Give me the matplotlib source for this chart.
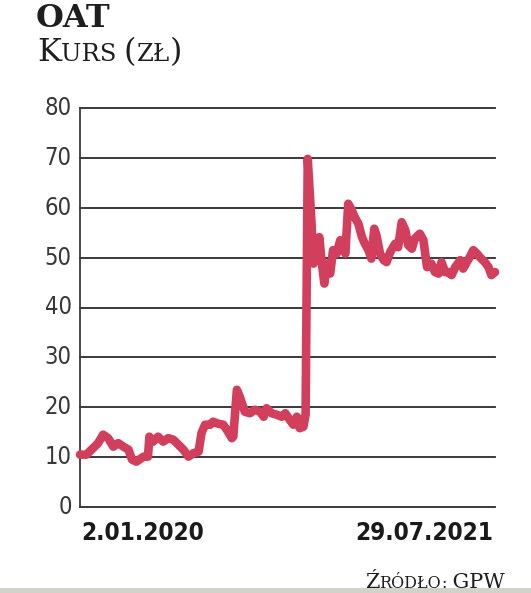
import matplotlib
matplotlib.use("Agg")
import matplotlib.pyplot as plt
from matplotlib import font_manager
import numpy as np
import pandas as pd

# ---- data ----
start_date = "2020-01-02"
end_date = "2021-07-29"
day_offsets = [0, 9, 18, 25, 32, 39, 46, 53, 60, 67, 72, 78, 88, 94, 96, 101, 108, 115,
               122, 129, 136, 143, 150, 157, 164, 168, 173, 180, 184, 191, 198, 203, 210,
               212, 217, 221, 228, 235, 242, 249, 254, 258, 265, 272, 279, 284, 290, 295,
               300, 304, 309, 312, 315, 320, 323, 327, 331, 334, 338, 341, 346, 350, 355,
               360, 364, 367, 371, 376, 380, 385, 390, 394, 399, 403, 407, 410, 415, 420,
               424, 429, 436, 440, 445, 450, 454, 459, 463, 470, 475, 480, 486, 491, 496,
               500, 505, 509, 514, 519, 526, 530, 535, 539, 544, 549, 553, 560, 565, 569, 574]
prices = [10.5, 10.5, 11.8, 12.8, 14.5, 13.8, 12.1, 12.8, 12.1, 11.5, 9.5, 9.1, 10.1, 10.1,
          14.1, 13.1, 14.1, 13.1, 13.8, 13.5, 12.5, 11.5, 10.1, 10.8, 11.1, 14.8, 16.5, 16.5,
          17.1, 16.7, 16.5, 15.5, 13.8, 14.1, 23.5, 22.1, 19.1, 18.8, 19.5, 19.1, 18.1, 19.8,
          18.8, 18.5, 18.1, 18.8, 17.5, 16.5, 18.1, 15.8, 16.1, 18.5, 69.8, 57.5, 48.8, 50.8,
          54.1, 49.5, 44.8, 48.8, 46.8, 51.5, 50.8, 53.5, 52.1, 50.8, 60.8, 59.5, 58.1, 56.8,
          54.1, 52.8, 51.5, 49.8, 55.8, 54.5, 50.8, 49.5, 49.1, 51.1, 52.8, 52.1, 57.1, 55.5,
          52.5, 51.8, 53.8, 54.8, 53.5, 48.1, 48.8, 47.1, 46.8, 49.1, 47.1, 47.1, 46.5, 48.1,
          49.5, 47.8, 49.1, 50.1, 51.5, 50.8, 50.1, 49.1, 48.1, 46.5, 47.1]
y_ticks = [0, 10, 20, 30, 40, 50, 60, 70, 80]
x_labels = ["2.01.2020", "29.07.2021"]
title = "OAT"

W, H = 531, 593
DPI = 100
fig = plt.figure(figsize=(W / DPI, H / DPI), dpi=DPI)
fig.patch.set_facecolor("white")

def fx(px):
    return px / W

def fy(py):
    return 1 - py / H

ax_l, ax_r, ax_t, ax_b = 80, 495, 108, 507
ax = fig.add_axes([fx(ax_l), fy(ax_b), (ax_r - ax_l) / W, (ax_b - ax_t) / H])

dates = pd.Timestamp(start_date) + pd.to_timedelta(day_offsets, unit="D")
ax.plot(dates, prices, color="#d23f5c", lw=6.2, solid_capstyle="round",
        solid_joinstyle="round", zorder=5, clip_on=False)

ax.set_xlim(pd.Timestamp(start_date), pd.Timestamp(end_date))
ax.set_ylim(0, 80)
ax.set_yticks(y_ticks)
ax.set_xticks([])
for y in y_ticks:
    ax.axhline(y, color="#2a2a2a", lw=1.3, zorder=1, clip_on=False)
for s in ["top", "right", "bottom"]:
    ax.spines[s].set_visible(False)
ax.spines["left"].set_color("#3a3a3a")
ax.spines["left"].set_linewidth(1.3)

# pick a narrow sans if available
cond_fp = None
cond_bold = None
for f in font_manager.fontManager.ttflist:
    if f.name == "DejaVu Sans" and "Condensed" in f.fname and "Bold" not in f.fname \
            and "Oblique" not in f.fname:
        cond_fp = f.fname
    if f.name == "DejaVu Sans" and "Condensed-Bold." in f.fname:
        cond_bold = f.fname

def tick_font(size):
    if cond_fp:
        return font_manager.FontProperties(fname=cond_fp, size=size)
    return font_manager.FontProperties(family="Roboto", weight="light", size=size)

def lab_font(size):
    if cond_bold:
        return font_manager.FontProperties(fname=cond_bold, size=size)
    return font_manager.FontProperties(family="Roboto", weight="medium", size=size)

ax.tick_params(axis="y", length=0, pad=6, labelcolor="#383838")
for lab in ax.get_yticklabels():
    lab.set_fontproperties(tick_font(17))
    lab.set_va("center")

# x labels
fig.text(fx(81), fy(540), x_labels[0], ha="left", va="baseline",
         fontproperties=lab_font(17.5), color="#1a1a1a")
fig.text(fx(493), fy(540), x_labels[1], ha="right", va="baseline",
         fontproperties=lab_font(17.5), color="#1a1a1a")

# small-caps helper
renderer = fig.canvas.get_renderer()

def small_caps(x_px, base_px, parts, big, small, weight="normal", color="#1e1e1e"):
    x = x_px
    for txt, is_big in parts:
        t = fig.text(fx(x), fy(base_px), txt, ha="left", va="baseline",
                     fontsize=big if is_big else small, family="DejaVu Serif",
                     fontweight=weight, color=color)
        bb = t.get_window_extent(renderer=renderer)
        x += bb.width

fig.text(fx(36), fy(27), title, ha="left", va="baseline", fontsize=23,
         family="DejaVu Serif", fontweight="bold", color="#1e1e1e")
small_caps(37, 61, [("K", True), ("URS ", False), ("(", True), ("ZŁ", False), (")", True)],
           23, 17.5)
small_caps(365, 587.5, [("Ź", True), ("RÓDŁO", False), (":", False), (" GPW", True)],
           15, 11.5)

# grey band at bottom
fig.patches.append(plt.Rectangle((0, 0), 1, 5 / H, transform=fig.transFigure,
                                 facecolor="#d2d2cb", edgecolor="none"))

fig.savefig("out.png", dpi=DPI)
